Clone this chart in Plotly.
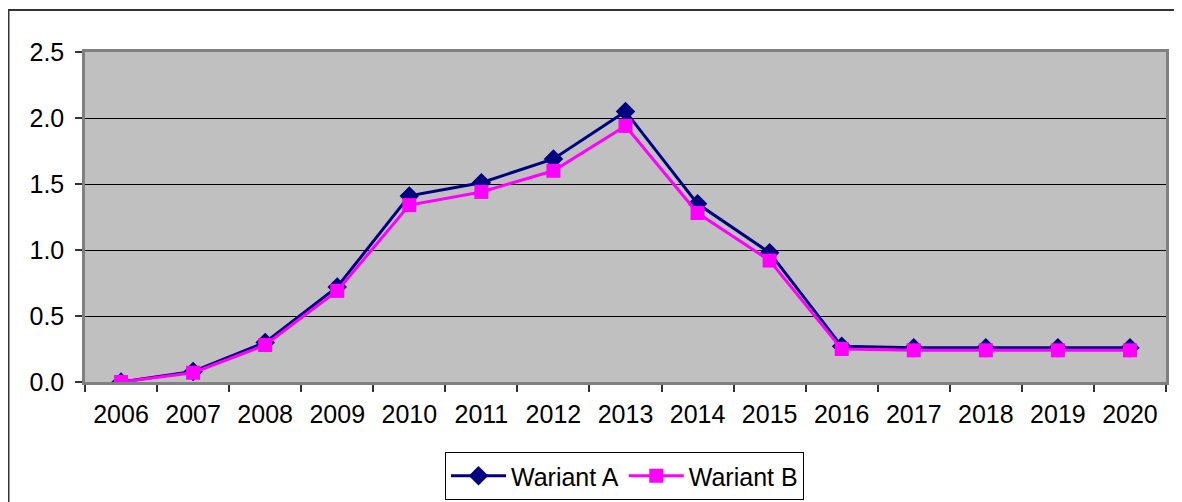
import plotly.graph_objects as go

years = ["2006", "2007", "2008", "2009", "2010", "2011", "2012", "2013",
         "2014", "2015", "2016", "2017", "2018", "2019", "2020"]
wariant_a = [0.00, 0.08, 0.30, 0.72, 1.41, 1.51, 1.69, 2.05,
             1.35, 0.98, 0.27, 0.26, 0.26, 0.26, 0.26]
wariant_b = [0.00, 0.07, 0.28, 0.69, 1.34, 1.44, 1.60, 1.94,
             1.28, 0.92, 0.25, 0.24, 0.24, 0.24, 0.24]
y_ticks = [0.0, 0.5, 1.0, 1.5, 2.0, 2.5]

FONT = "Liberation Sans, Arial, sans-serif"
FS = 25

fig = go.Figure()
fig.add_trace(go.Scatter(
    x=years, y=wariant_a, name="Wariant A", mode="lines+markers",
    line=dict(color="#000080", width=3),
    marker=dict(symbol="diamond", size=15, color="#000080"),
))
fig.add_trace(go.Scatter(
    x=years, y=wariant_b, name="Wariant B", mode="lines+markers",
    line=dict(color="#FF00FF", width=3),
    marker=dict(symbol="square", size=14, color="#FF00FF"),
))

# page has an 8px body margin; figure starts at (8, 8)
OFF = 8
W, H = 1182 - OFF, 502 - OFF
L, T = 85 - OFF, 52 - OFF
R = W - (1166 - OFF)
B = H - (382 - OFF)
pw, ph = W - L - R, H - T - B

# outer chart border (page coords: left 7, top 10)
fig.add_shape(type="rect", xref="paper", yref="paper",
              x0=(0.5 - L) / pw, x1=(1300 - L) / pw,
              y0=(T + ph - 600) / ph, y1=(T + ph - (10 - OFF)) / ph,
              line=dict(color="#333333", width=2), fillcolor="rgba(0,0,0,0)",
              layer="below")

fig.update_layout(
    width=W, height=H,
    margin=dict(l=L, r=R, t=T, b=B, autoexpand=False),
    paper_bgcolor="white",
    plot_bgcolor="#C0C0C0",
    font=dict(family=FONT, size=FS, color="black"),
    showlegend=True,
    legend=dict(
        orientation="h", x=(624.5 - 85) / pw, xanchor="center",
        y=(T + ph - (500 - OFF)) / ph, yanchor="bottom",
        bordercolor="black", borderwidth=1, bgcolor="white",
        font=dict(family=FONT, size=FS, color="black"),
        itemwidth=55, tracegroupgap=0,
    ),
    xaxis=dict(
        type="category", tickson="boundaries", ticks="outside", ticklen=7,
        tickcolor="#333333", tickwidth=1.5, automargin=False,
        showline=True, linecolor="#808080", linewidth=2.5, mirror=True,
        showgrid=False, tickfont=dict(size=FS), ticklabelstandoff=8,
        range=[-0.5, 14.5],
    ),
    yaxis=dict(
        range=[0, 2.5], tickvals=y_ticks, tickformat=".1f", automargin=False,
        ticks="outside", ticklen=7, tickcolor="#333333", tickwidth=1.5,
        showline=True, linecolor="#808080", linewidth=2.5, mirror=True,
        showgrid=True, gridcolor="#000000", gridwidth=1,
        zeroline=False, tickfont=dict(size=FS), ticklabelstandoff=6,
    ),
)

fig.write_html("out.html")
